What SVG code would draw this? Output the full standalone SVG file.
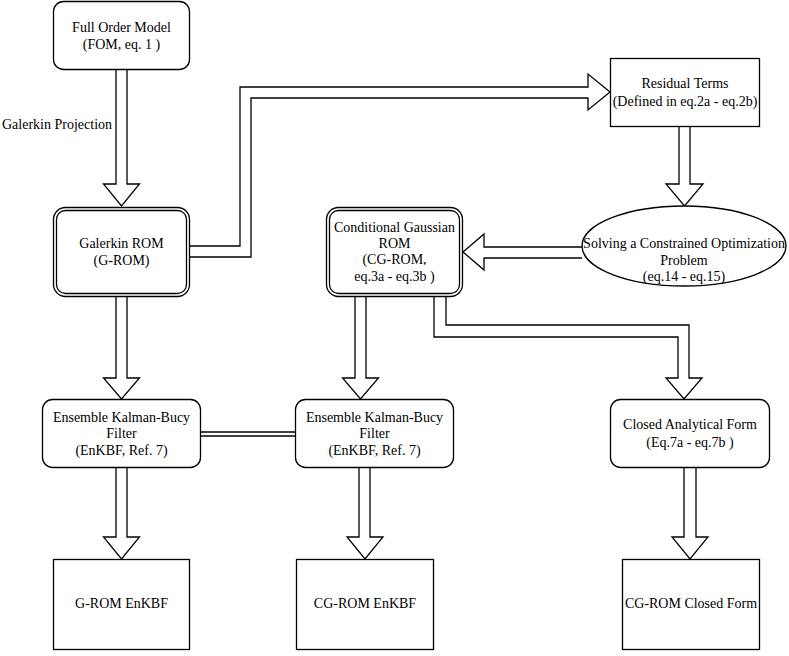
<svg xmlns="http://www.w3.org/2000/svg" width="789" height="656" viewBox="0 0 789 656" font-family="Liberation Serif, DejaVu Serif, serif">
<style>
.b{fill:#fff;stroke:#000;stroke-width:1.3}
.a{fill:#fff;stroke:#000;stroke-width:1.3;stroke-linejoin:miter}
.l{fill:none;stroke:#000;stroke-width:1.3}
text{font-family:'Liberation Serif','DejaVu Serif',serif;font-size:14px;fill:#000;text-anchor:middle}
</style>
<rect width="789" height="656" fill="#fff"/>
<g id="connectors">
<path class="a" d="M116,70 V184 H103.5 L121.5,206 L139.5,184 H127 V70"/>
<path class="a" d="M190,257 H251 V98 H588 V110 L610,92 L588,74 V87 H240 V246 H190"/>
<path class="a" d="M679,127 V184 H666 L684.5,206 L703,184 H690 V127"/>
<path class="a" d="M582,247 H484 V234 L463,252 L484,270 V258 H582"/>
<path class="a" d="M116,296 V378 H103.5 L121.5,399 L139.5,378 H127 V296"/>
<path class="a" d="M355,297 V378 H342.5 L360.5,399 L378.5,378 H366 V297"/>
<path class="a" d="M434,297 V337 H678 V378 H666 L684,399 L702,378 H689 V325 H446 V297"/>
<path class="l" d="M201,432 H295 M201,436 H295"/>
<path class="a" d="M116,468 V537 H103.5 L121.5,559 L139.5,537 H127 V468"/>
<path class="a" d="M359,468 V537 H347 L365,559 L383,537 H370 V468"/>
<path class="a" d="M684,468 V537 H672 L690,559 L708,537 H696 V468"/>
</g>
<g id="fom">
<rect class="b" x="53.5" y="1.5" width="136" height="68" rx="10"/>
<text x="121.5" y="32">Full Order Model</text>
<text x="121.5" y="49">(FOM, eq. 1 )</text>
</g>
<g id="galerkin-label">
<text x="2" y="129" style="text-anchor:start">Galerkin Projection</text>
</g>
<g id="residual">
<rect class="b" x="610.5" y="58.5" width="149" height="68"/>
<text x="685" y="88">Residual Terms</text>
<text x="685" y="106">(Defined in eq.2a - eq.2b)</text>
</g>
<g id="grom">
<rect class="b" x="53.5" y="207.5" width="136" height="89" rx="12"/>
<rect class="b" x="56.5" y="210.5" width="130" height="83" rx="9"/>
<text x="121.5" y="248">Galerkin ROM</text>
<text x="121.5" y="265">(G-ROM)</text>
</g>
<g id="cgrom">
<rect class="b" x="326.5" y="207.5" width="136" height="89" rx="12"/>
<rect class="b" x="329.5" y="210.5" width="130" height="83" rx="9"/>
<text x="394.5" y="232">Conditional Gaussian</text>
<text x="394.5" y="248">ROM</text>
<text x="394.5" y="264">(CG-ROM,</text>
<text x="394.5" y="281">eq.3a - eq.3b )</text>
</g>
<g id="optim">
<ellipse class="b" cx="684" cy="246" rx="102" ry="40"/>
<text x="684" y="248">Solving a Constrained Optimization</text>
<text x="684" y="265">Problem</text>
<text x="684" y="281">(eq.14 - eq.15)</text>
</g>
<g id="enkbf1">
<rect class="b" x="42.5" y="399.5" width="158" height="68" rx="10"/>
<text x="121.5" y="422">Ensemble Kalman-Bucy</text>
<text x="121.5" y="438">Filter</text>
<text x="121.5" y="455">(EnKBF, Ref. 7)</text>
</g>
<g id="enkbf2">
<rect class="b" x="295.5" y="399.5" width="158" height="68" rx="10"/>
<text x="374.5" y="422">Ensemble Kalman-Bucy</text>
<text x="374.5" y="438">Filter</text>
<text x="374.5" y="455">(EnKBF, Ref. 7)</text>
</g>
<g id="caf">
<rect class="b" x="610.5" y="399.5" width="159" height="68" rx="10"/>
<text x="690" y="429">Closed Analytical Form</text>
<text x="690" y="447">(Eq.7a - eq.7b )</text>
</g>
<g id="grom-enkbf">
<rect class="b" x="53.5" y="559.5" width="136" height="90"/>
<text x="121.5" y="608">G-ROM EnKBF</text>
</g>
<g id="cgrom-enkbf">
<rect class="b" x="296.5" y="559.5" width="137" height="90"/>
<text x="365" y="608">CG-ROM EnKBF</text>
</g>
<g id="cgrom-closed">
<rect class="b" x="622.5" y="559.5" width="137" height="90"/>
<text x="691" y="608">CG-ROM Closed Form</text>
</g>
</svg>
